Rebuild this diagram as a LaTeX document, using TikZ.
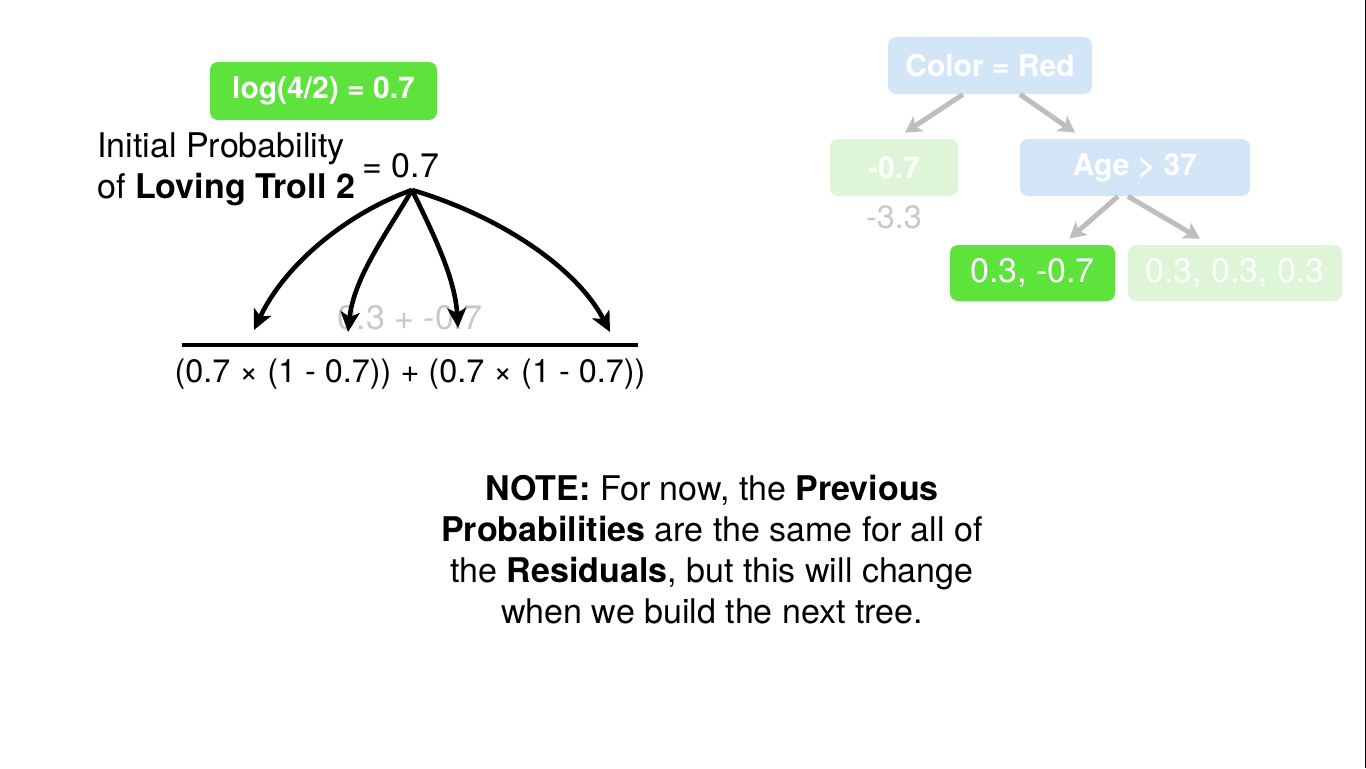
\documentclass[tikz,border=0pt]{standalone}
\usepackage{fontspec}
\setmainfont{TeX Gyre Heros}
\usetikzlibrary{arrows.meta}
\definecolor{leafgreen}{HTML}{5EE23C}
\definecolor{palegreen}{HTML}{DEF5D7}
\definecolor{paleblue}{HTML}{D3E6F8}
\definecolor{fadegray}{HTML}{C8C8C8}
\definecolor{treegray}{HTML}{BEBEBE}

\begin{document}
\begin{tikzpicture}[x=0.5pt, y=0.5pt,
  box/.style={rounded corners=4pt, inner sep=0pt, text=white, minimum height=28.5pt},
  boldbox/.style={box, font=\fontsize{15}{18}\bfseries\selectfont},
  bigtext/.style={inner sep=0pt, font=\fontsize{17}{20.5}\selectfont},
  midtext/.style={inner sep=0pt, font=\fontsize{16.2}{19}\selectfont},
  curvearrow/.style={line width=2.3pt, -{Stealth[length=10pt, width=9.5pt, inset=2.5pt]}},
  treearrow/.style={treegray, line width=2.5pt, -{Stealth[length=8pt, width=9pt, inset=2pt]}}]
\useasboundingbox (0,0) rectangle (1366,768);
\fill[black] (1364.5,0) rectangle (1366,768);

% left side: initial probability
\node[boldbox, fill=leafgreen, minimum width=113.5pt, minimum height=29pt] (logodds) at (323.5,677) {log(4/2) = 0.7};
\node[bigtext, anchor=base west] (initprob) at (97,611) {Initial Probability};
\node[bigtext, anchor=base west] (troll) at (97,570) {of \textbf{Loving Troll 2}};
\node[bigtext, anchor=base west] (prob) at (362,591) {= 0.7};
\coordinate (src) at (412,578);

% fraction
\node[bigtext, text=fadegray, anchor=base] (numer) at (410,439) {0.3 + -0.7};
\coordinate (fracL) at (182,423);
\coordinate (fracR) at (638,423);
\draw[line width=2pt] (fracL) -- (fracR);
\node[midtext, anchor=base] (denom) at (410,386) {(0.7 × (1 - 0.7)) + (0.7 × (1 - 0.7))};

\coordinate (tipA) at (254,438);
\coordinate (tipB) at (348,436);
\coordinate (tipC) at (458,440);
\coordinate (tipD) at (610,436);
\draw[curvearrow] (src) .. controls (345,554) and (284,502) .. (tipA);
\draw[curvearrow] (src) .. controls (387,535) and (354,491) .. (tipB);
\draw[curvearrow] (src) .. controls (434,533) and (455,490) .. (tipC);
\draw[curvearrow] (src) .. controls (500,552) and (577,500) .. (tipD);

% tree
\node[boldbox, fill=paleblue, minimum width=102pt] (red) at (990,702.5) {Color = Red};
\node[boldbox, fill=palegreen, minimum width=64pt] (leafL) at (894,600.5) {-0.7};
\node[boldbox, fill=paleblue, minimum width=115pt] (age) at (1135,600.5) {Age > 37};
\node[midtext, text=fadegray] (leftval) at (894,551) {-3.3};
\node[box, fill=leafgreen, minimum width=82.5pt, minimum height=28pt, font=\fontsize{17}{20}\selectfont] (leafM) at (1032.5,495) {0.3, -0.7};
\node[box, fill=palegreen, minimum width=107pt, minimum height=28pt, font=\fontsize{17}{20}\selectfont] (leafR) at (1235,495) {0.3, 0.3, 0.3};
\draw[treearrow] ([shift={(-27,0)}]red.south) -- ([shift={(11,6)}]leafL.north);
\draw[treearrow] ([shift={(30,0)}]red.south) -- ([shift={(-60,6)}]age.north);
\draw[treearrow] ([shift={(-17,0)}]age.south) -- ([shift={(37,6)}]leafM.north);
\draw[treearrow] ([shift={(-7,0)}]age.south) -- ([shift={(-35,6)}]leafR.north);

% note
\node[bigtext, align=center] (note) at (712,218) {\textbf{NOTE:} For now, the \textbf{Previous}\\ \textbf{Probabilities} are the same for all of\\ the \textbf{Residuals}, but this will change\\ when we build the next tree.};
\end{tikzpicture}
\end{document}
